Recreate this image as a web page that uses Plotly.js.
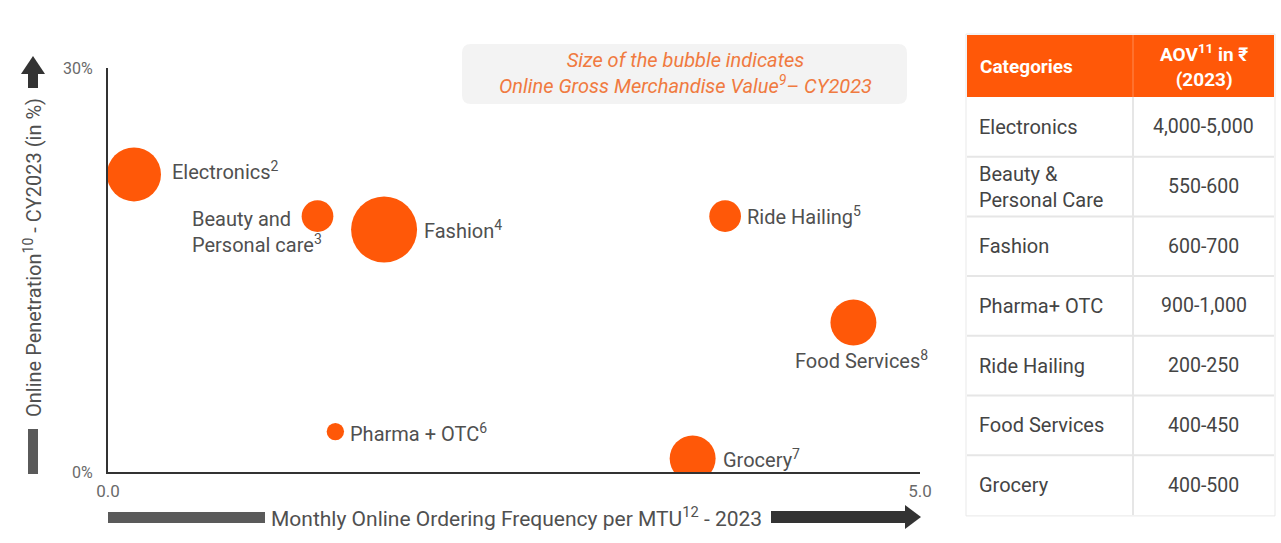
<!DOCTYPE html>
<html>
<head>
<meta charset="utf-8">
<script src="https://cdn.plot.ly/plotly-3.0.1.min.js"></script>
<style>html,body{margin:0;padding:0;background:#fff;}#chart{width:1281px;height:543px;}</style>
</head>
<body>
<div id="chart"></div>
<script>
// ---------- DATA ----------
const categories = ['Electronics', 'Beauty and<br>Personal care', 'Fashion', 'Ride Hailing', 'Food Services', 'Pharma + OTC', 'Grocery'];
const footnotes = ['2', '3', '4', '5', '8', '6', '7'];
const frequency = [0.16, 1.29, 1.70, 3.80, 4.59, 1.40, 3.60];      // monthly orders per MTU
const penetration = [22.1, 19.0, 18.0, 19.0, 11.1, 3.0, 1.0];     // online penetration %
const gmv = [8.7, 3.0, 13.0, 3.0, 6.3, 0.9, 6.3];                 // relative online GMV (bubble area)

const tableCategories = ['Electronics', 'Beauty &<br>Personal Care', 'Fashion', 'Pharma+ OTC', 'Ride Hailing', 'Food Services', 'Grocery'];
const tableAOV = ['4,000-5,000', '550-600', '600-700', '900-1,000', '200-250', '400-450', '400-500'];

const xTickVals = [0, 5];
const xTickText = ['0.0', '5.0'];
const yTickVals = [0, 30];
const yTickText = ['0%', '30%'];

// ---------- LAYOUT HELPERS ----------
const W = 1281, H = 543;
const fx = px => px / W;
const fy = py => 1 - py / H;
const P = (x, y) => fx(x).toFixed(5) + ',' + fy(y).toFixed(5);
function roundRect(x0, y0, x1, y1, r) {
  return `M ${P(x0 + r, y0)} L ${P(x1 - r, y0)} Q ${P(x1, y0)} ${P(x1, y0 + r)} L ${P(x1, y1 - r)} Q ${P(x1, y1)} ${P(x1 - r, y1)} L ${P(x0 + r, y1)} Q ${P(x0, y1)} ${P(x0, y1 - r)} L ${P(x0, y0 + r)} Q ${P(x0, y0)} ${P(x0 + r, y0)} Z`;
}
function poly(pts) {
  return 'M ' + pts.map(p => P(p[0], p[1])).join(' L ') + ' Z';
}

const ORANGE = '#FF5808';
const TEXT = '#505050';
const FONT = 'Roboto, "Open Sans", sans-serif';

// label placement relative to bubble centre (px): [xshift, yshift, xanchor]
const labelPlacement = [
  [36, 3, 'left'], [-128, -16, 'left'], [38, 0, 'left'], [20, 0, 'left'],
  [-60, -37, 'left'], [13, -1, 'left'], [28, 0, 'left']
];

const maxDiameter = 66;
const trace = {
  type: 'scatter', mode: 'markers',
  x: frequency, y: penetration,
  marker: {
    size: gmv, sizemode: 'area',
    sizeref: 2 * Math.max(...gmv) / (maxDiameter * maxDiameter),
    color: ORANGE, opacity: 1, line: {width: 0}
  },
  hoverinfo: 'skip', showlegend: false
};

const annotations = [];
categories.forEach((c, i) => {
  const pl = labelPlacement[i];
  annotations.push({
    x: frequency[i], y: penetration[i], xref: 'x', yref: 'y',
    text: c + '<sup>' + footnotes[i] + '</sup>',
    showarrow: false, xanchor: pl[2], yanchor: 'middle', align: 'left',
    xshift: pl[0], yshift: pl[1],
    font: {family: FONT, size: 20, color: TEXT}
  });
});

// axis titles
annotations.push({
  xref: 'paper', yref: 'paper', x: fx(33), y: fy(258), textangle: -90,
  text: 'Online Penetration<sup>10</sup> - CY2023 (in %)', showarrow: false,
  xanchor: 'center', yanchor: 'middle',
  font: {family: FONT, size: 20, color: TEXT}
});
annotations.push({
  xref: 'paper', yref: 'paper', x: fx(516), y: fy(517),
  text: 'Monthly Online Ordering Frequency per MTU<sup>12</sup> - 2023', showarrow: false,
  xanchor: 'center', yanchor: 'middle',
  font: {family: FONT, size: 21, color: TEXT}
});

// bubble size note
annotations.push({
  xref: 'paper', yref: 'paper', x: fx(685), y: fy(73),
  text: '<i>Size of the bubble indicates</i><br><i>Online Gross Merchandise Value<sup>9</sup>– CY2023</i>',
  showarrow: false, xanchor: 'center', yanchor: 'middle', align: 'center',
  font: {family: FONT, size: 20, color: '#F07A40'}
});

const shapes = [];
shapes.push({type: 'path', xref: 'paper', yref: 'paper', path: roundRect(462, 44, 907, 104, 9),
  fillcolor: '#F3F3F3', line: {width: 0}, layer: 'below'});

// axis arrows
shapes.push({type: 'rect', xref: 'paper', yref: 'paper', x0: fx(28), x1: fx(38), y0: fy(429), y1: fy(474),
  fillcolor: '#5a5a5a', line: {width: 0}});
shapes.push({type: 'rect', xref: 'paper', yref: 'paper', x0: fx(28), x1: fx(38), y0: fy(72), y1: fy(88),
  fillcolor: '#333333', line: {width: 0}});
shapes.push({type: 'path', xref: 'paper', yref: 'paper', path: poly([[21, 74], [33, 56], [45, 74]]),
  fillcolor: '#333333', line: {width: 0}});
shapes.push({type: 'rect', xref: 'paper', yref: 'paper', x0: fx(108), x1: fx(265), y0: fy(523), y1: fy(512),
  fillcolor: '#5a5a5a', line: {width: 0}});
shapes.push({type: 'rect', xref: 'paper', yref: 'paper', x0: fx(771), x1: fx(906), y0: fy(523), y1: fy(511),
  fillcolor: '#333333', line: {width: 0}});
shapes.push({type: 'path', xref: 'paper', yref: 'paper', path: poly([[905, 505], [921, 517], [905, 529]]),
  fillcolor: '#333333', line: {width: 0}});

// ---------- TABLE ----------
const tX0 = 967, tX1 = 1274, tXm = 1133, tY0 = 35, headerH = 62, rowH = 59.7;
const tY1 = tY0 + headerH + rowH * tableCategories.length;
shapes.push({type: 'rect', xref: 'paper', yref: 'paper', x0: fx(tX0 - 1), x1: fx(tX1 + 1), y0: fy(tY0 - 1), y1: fy(tY1 + 1),
  fillcolor: '#ffffff', line: {color: '#e9e9e9', width: 1}, layer: 'below'});
shapes.push({type: 'rect', xref: 'paper', yref: 'paper', x0: fx(tX0), x1: fx(tX1), y0: fy(tY0), y1: fy(tY0 + headerH),
  fillcolor: ORANGE, line: {width: 0}});
shapes.push({type: 'line', xref: 'paper', yref: 'paper', x0: fx(tXm), x1: fx(tXm), y0: fy(tY0), y1: fy(tY0 + headerH),
  line: {color: '#FF8A52', width: 1}});
shapes.push({type: 'line', xref: 'paper', yref: 'paper', x0: fx(tXm), x1: fx(tXm), y0: fy(tY0 + headerH), y1: fy(tY1),
  line: {color: '#e6e6e6', width: 2}});
for (let i = 1; i < tableCategories.length; i++) {
  const yy = tY0 + headerH + rowH * i;
  shapes.push({type: 'line', xref: 'paper', yref: 'paper', x0: fx(tX0), x1: fx(tX1), y0: fy(yy), y1: fy(yy),
    line: {color: '#e6e6e6', width: 2}});
}
annotations.push({
  xref: 'paper', yref: 'paper', x: fx(978), y: fy(tY0 + headerH / 2),
  text: '<b>Categories</b>', showarrow: false, xanchor: 'left', yanchor: 'middle',
  font: {family: FONT, size: 19, color: '#ffffff'}
});
annotations.push({
  xref: 'paper', yref: 'paper', x: fx((tXm + tX1) / 2), y: fy(tY0 + headerH / 2),
  text: '<b>AOV<sup>11</sup> in ₹</b><br><b>(2023)</b>', showarrow: false, xanchor: 'center', yanchor: 'middle', align: 'center',
  font: {family: FONT, size: 19, color: '#ffffff'}
});
tableCategories.forEach((c, i) => {
  const yc = tY0 + headerH + rowH * (i + 0.5);
  annotations.push({
    xref: 'paper', yref: 'paper', x: fx(977), y: fy(yc), text: c, showarrow: false,
    xanchor: 'left', yanchor: 'middle', align: 'left',
    font: {family: FONT, size: 20, color: '#444'}
  });
  annotations.push({
    xref: 'paper', yref: 'paper', x: fx((tXm + tX1) / 2), y: fy(yc), text: tableAOV[i], showarrow: false,
    xanchor: 'center', yanchor: 'middle',
    font: {family: FONT, size: 19.5, color: '#444'}
  });
});

const layout = {
  width: W, height: H,
  margin: {l: 0, r: 0, t: 0, b: 0},
  paper_bgcolor: '#ffffff', plot_bgcolor: '#ffffff',
  font: {family: FONT},
  xaxis: {
    domain: [fx(108), fx(920)], range: [0, 5], showgrid: false, zeroline: false,
    showline: true, linecolor: '#333', linewidth: 2, ticks: '',
    tickvals: xTickVals, ticktext: xTickText, ticklabelstandoff: 3,
    tickfont: {family: FONT, size: 17, color: '#6a6a6a'}, fixedrange: true
  },
  yaxis: {
    domain: [fy(472), fy(68)], range: [0, 30], showgrid: false, zeroline: false,
    showline: true, linecolor: '#333', linewidth: 2, ticks: '',
    tickvals: yTickVals, ticktext: yTickText, ticklabelstandoff: 10,
    tickfont: {family: FONT, size: 16, color: '#6a6a6a'}, fixedrange: true
  },
  shapes: shapes,
  annotations: annotations,
  showlegend: false
};

Plotly.newPlot('chart', [trace], layout, {displayModeBar: false, staticPlot: true});
</script>
</body>
</html>
